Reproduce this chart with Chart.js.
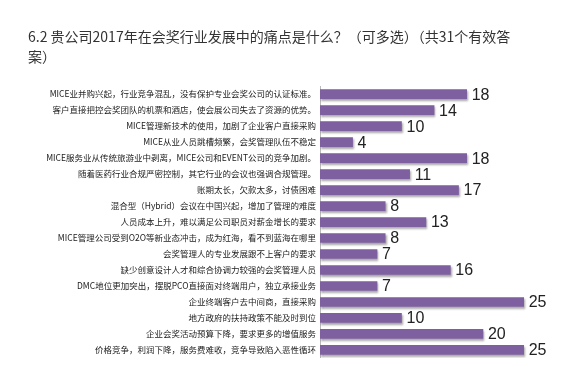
<!DOCTYPE html>
<html>
<head>
<meta charset="utf-8">
<script src="https://cdn.jsdelivr.net/npm/chart.js@4.4.1/dist/chart.umd.min.js"></script>
<style>
    html, body { margin: 0; padding: 0; background: #fff; }
    #wrap { width: 561px; height: 367px; }
</style>
</head>
<body>
<div id="wrap"><canvas id="painChart" width="561" height="367"></canvas></div>
<script>
const titleLines = [
    '6.2 贵公司2017年在会奖行业发展中的痛点是什么？（可多选）（共31个有效答',
    '案）'
];

const painPoints = [
    'MICE业并购兴起，行业竞争混乱，没有保护专业会奖公司的认证标准。',
    '客户直接把控会奖团队的机票和酒店，使会展公司失去了资源的优势。',
    'MICE管理新技术的使用，加剧了企业客户直接采购',
    'MICE从业人员跳槽频繁，会奖管理队伍不稳定',
    'MICE服务业从传统旅游业中剥离，MICE公司和EVENT公司的竞争加剧。',
    '随着医药行业合规严密控制，其它行业的会议也强调合规管理。',
    '账期太长，欠款太多，讨债困难',
    '混合型（Hybrid）会议在中国兴起，增加了管理的难度',
    '人员成本上升，难以满足公司职员对薪金增长的要求',
    'MICE管理公司受到O2O等新业态冲击，成为红海，看不到蓝海在哪里',
    '会奖管理人的专业发展跟不上客户的要求',
    '缺少创意设计人才和综合协调力较强的会奖管理人员',
    'DMC地位更加突出，摆脱PCO直接面对终端用户，独立承接业务',
    '企业终端客户去中间商，直接采购',
    '地方政府的扶持政策不能及时到位',
    '企业会奖活动预算下降，要求更多的增值服务',
    '价格竞争，利润下降，服务费难收，竞争导致陷入恶性循环'
];

const responses = [18, 14, 10, 4, 18, 11, 17, 8, 13, 8, 7, 16, 7, 25, 10, 20, 25];

// value labels at the bar ends
const valueLabels = {
    id: 'valueLabels',
    afterDatasetsDraw(chart) {
        const ctx = chart.ctx;
        const meta = chart.getDatasetMeta(0);
        ctx.save();
        ctx.font = '16px "Liberation Sans", Arial, sans-serif';
        ctx.fillStyle = '#222';
        ctx.textBaseline = 'middle';
        ctx.textAlign = 'left';
        meta.data.forEach((bar, i) => {
            ctx.fillText(String(responses[i]), bar.x + 5, bar.y + 1);
        });
        ctx.restore();
    }
};

// soft shadow under the bars
const barShadow = {
    id: 'barShadow',
    beforeDatasetsDraw(chart) {
        const ctx = chart.ctx;
        ctx.save();
        ctx.shadowColor = 'rgba(0, 0, 0, 0.35)';
        ctx.shadowOffsetX = 1;
        ctx.shadowOffsetY = 2;
        ctx.shadowBlur = 2;
    },
    afterDatasetsDraw(chart) {
        chart.ctx.restore();
    }
};

const ctx = document.getElementById('painChart').getContext('2d');
new Chart(ctx, {
    type: 'bar',
    data: {
        labels: painPoints,
        datasets: [{
            data: responses,
            backgroundColor: '#7E5FA0',
            borderWidth: 0,
            barThickness: 9
        }]
    },
    plugins: [barShadow, valueLabels],
    options: {
        indexAxis: 'y',
        responsive: false,
        animation: false,
        layout: {
            padding: { left: 28, right: 21, top: 0, bottom: 8 }
        },
        plugins: {
            legend: { display: false },
            tooltip: { enabled: false },
            title: {
                display: true,
                text: titleLines,
                align: 'start',
                color: '#333',
                font: { family: '"Noto Sans CJK SC", sans-serif', size: 14, weight: 'normal', lineHeight: 1.4 },
                padding: { top: 27, bottom: 20 }
            }
        },
        scales: {
            x: {
                display: false,
                min: 0,
                max: 27
            },
            y: {
                afterFit: function (scale) {
                    scale.width = 292;
                },
                grid: { display: false, drawTicks: false },
                border: { display: true, color: '#bbb', width: 1 },
                ticks: {
                    autoSkip: false,
                    padding: 4,
                    color: '#222',
                    font: { family: '"Noto Sans CJK SC", sans-serif', size: 8.5 }
                }
            }
        }
    }
});
</script>
</body>
</html>
